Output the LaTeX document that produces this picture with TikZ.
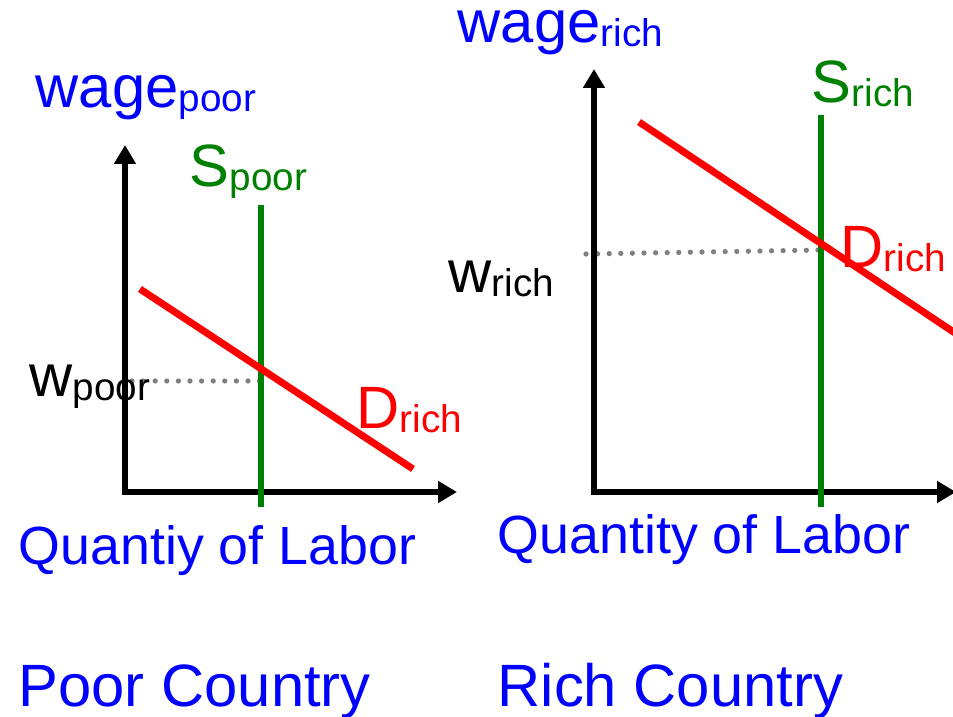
\documentclass[tikz,border=0pt]{standalone}
\usepackage{fontspec}
\setmainfont{Liberation Sans}
\usepackage{xcolor}
\usepackage{tikz}
\usetikzlibrary{arrows.meta}

\definecolor{ppblue}{RGB}{0,0,255}
\definecolor{ppgreen}{RGB}{0,128,0}
\definecolor{ppred}{RGB}{255,0,0}
\definecolor{ppgray}{RGB}{128,128,128}
\newcommand{\lowtext}[1]{{\fontsize{11}{13}\selectfont\raisebox{-1pt}{#1}}}

\begin{document}
\begin{tikzpicture}[
		axis/.style={line width=1.6pt, {Triangle[length=0.19cm, width=0.21cm]}-{Triangle[length=0.19cm, width=0.21cm]}},
		supply/.style={ppgreen, line width=1.8pt},
		demand/.style={ppred, line width=2pt},
		level/.style={ppgray, line width=1.5pt, line cap=round, dash pattern=on 0pt off 3.3pt},
		lbl/.style={inner sep=0pt, anchor=base west, font=\fontsize{17}{20}\selectfont},
		ttl/.style={inner sep=0pt, anchor=base west, ppblue}]
			% Paths, nodes and wires:
			\clip (0, 0) rectangle (9.53, 7.16);
			% poor country
			\coordinate (O1) at (1.25, 2.24);
			\coordinate (Y1) at (1.25, 5.71);
			\coordinate (X1) at (4.57, 2.24);
			\coordinate (S1a) at (2.61, 5.11);
			\coordinate (S1b) at (2.61, 2.09);
			\coordinate (D1a) at (1.40, 4.27);
			\coordinate (D1b) at (4.13, 2.47);
			\coordinate (W1) at (1.32, 3.35);
			\draw[level] (W1) -- (W1 -| S1a);
			\draw[axis] (Y1) -- (O1) -- (X1);
			\draw[supply] (S1a) -- (S1b);
			\draw[demand] (D1a) -- (D1b);
			\node[lbl, ppblue](N1) at (0.35, 6.08){wage\lowtext{poor}};
			\node[lbl, ppgreen](N2) at (1.89, 5.29){S\lowtext{poor}};
			\node[lbl](N3) at (0.29, 3.19){w\lowtext{poor}};
			\node[lbl, ppred](N4) at (3.56, 2.87){D\lowtext{rich}};
			\node[ttl, font=\fontsize{15.3}{18}\selectfont](N5) at (0.18, 1.52){Quantiy of Labor};
			\node[ttl, font=\fontsize{17}{20}\selectfont](N6) at (0.18, 0.10){Poor Country};
			% rich country
			\coordinate (O2) at (5.94, 2.24);
			\coordinate (Y2) at (5.94, 6.47);
			\coordinate (X2) at (9.56, 2.24);
			\coordinate (S2a) at (8.21, 6.01);
			\coordinate (S2b) at (8.21, 2.09);
			\coordinate (D2a) at (6.39, 5.94);
			\coordinate (D2b) at (9.70, 3.73);
			\coordinate (W2a) at (5.86, 4.62);
			\coordinate (W2b) at (8.21, 4.66);
			\draw[level] (W2a) -- (W2b);
			\draw[axis] (Y2) -- (O2) -- (X2);
			\draw[supply] (S2a) -- (S2b);
			\draw[demand] (D2a) -- (D2b);
			\node[lbl, ppblue](N7) at (4.57, 6.73){wage\lowtext{rich}};
			\node[lbl, ppgreen](N8) at (8.11, 6.13){S\lowtext{rich}};
			\node[lbl](N9) at (4.48, 4.23){w\lowtext{rich}};
			\node[lbl, ppred](N10) at (8.40, 4.48){D\lowtext{rich}};
			\node[ttl, font=\fontsize{15.3}{18}\selectfont](N11) at (4.97, 1.62){Quantity of Labor};
			\node[ttl, font=\fontsize{17}{20}\selectfont](N12) at (4.97, 0.10){Rich Country};
		\end{tikzpicture}
\end{document}
